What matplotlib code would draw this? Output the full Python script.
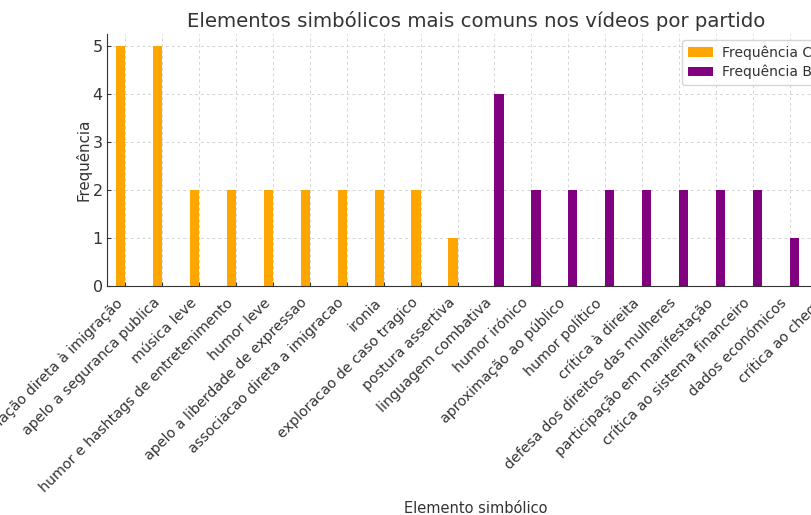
import matplotlib.pyplot as plt
import matplotlib.transforms as mtransforms
import pandas as pd

elementos = [
    "associação direta à imigração",
    "apelo a seguranca publica",
    "música leve",
    "humor e hashtags de entretenimento",
    "humor leve",
    "apelo a liberdade de expressao",
    "associacao direta a imigracao",
    "ironia",
    "exploracao de caso tragico",
    "postura assertiva",
    "linguagem combativa",
    "humor irónico",
    "aproximação ao público",
    "humor político",
    "crítica à direita",
    "defesa dos direitos das mulheres",
    "participação em manifestação",
    "crítica ao sistema financeiro",
    "dados económicos",
    "crítica ao chega",
]
freq_chega = [5, 5, 2, 2, 2, 2, 2, 2, 2, 1, 0, 0, 0, 0, 0, 0, 0, 0, 0, 0]
freq_be = [0, 0, 0, 0, 0, 0, 0, 0, 0, 0, 4, 2, 2, 2, 2, 2, 2, 2, 1, 1]

df = pd.DataFrame({"Frequência Chega": freq_chega,
                   "Frequência BE": freq_be}, index=elementos)

plt.rcParams['text.color'] = '#333333'
plt.rcParams['axes.labelcolor'] = '#333333'
plt.rcParams['xtick.color'] = '#333333'
plt.rcParams['ytick.color'] = '#333333'

fig = plt.figure(figsize=(8.11, 5.15), dpi=100)
ax = fig.add_axes([107/811, 1-286/515, (845-107)/811, (286-34)/515])

df.plot(kind='bar', ax=ax, color=['orange', 'purple'], width=0.5)

ax.set_title("Elementos simbólicos mais comuns nos vídeos por partido",
             fontsize=14.2, color='#333333', pad=5)
ax.set_xlabel("Elemento simbólico", fontsize=10.5, labelpad=5)
ax.set_ylabel("Frequência", fontsize=10.8, labelpad=1)
ax.set_xticklabels(elementos, rotation=45, ha='right', fontsize=10.3)
# nudge the rotated labels a little left, like the original
shift = mtransforms.ScaledTranslation(-3/100, 0, fig.dpi_scale_trans)
for lbl in ax.get_xticklabels():
    lbl.set_transform(lbl.get_transform() + shift)
ax.tick_params(axis='y', labelsize=11.5, direction='in', length=3, pad=3)
ax.tick_params(axis='x', direction='in', length=3, pad=7)
ax.grid(True, linestyle=(0, (3, 3)), color='#d5d5d5', linewidth=0.7)
ax.set_axisbelow(True)
ax.spines['top'].set_visible(False)
ax.spines['right'].set_visible(False)
ax.spines['left'].set_color('#333333')
ax.spines['bottom'].set_color('#333333')
ax.legend(loc='upper left', bbox_to_anchor=(682/811, 1-40/515),
          bbox_transform=fig.transFigure, borderaxespad=0, fontsize=10,
          handlelength=1.8, handletextpad=0.7, labelspacing=0.35)

fig.savefig("out.png", dpi=100)
